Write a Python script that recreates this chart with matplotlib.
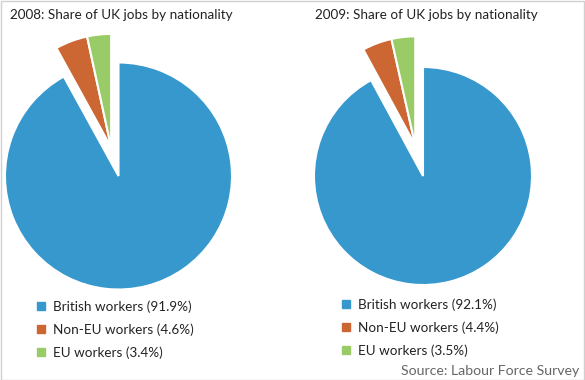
import numpy as np
import matplotlib.pyplot as plt
from matplotlib.lines import Line2D
from matplotlib.patches import Rectangle

plt.rcParams['font.family'] = ['Lato', 'DejaVu Sans']

categories = ['British workers', 'Non-EU workers', 'EU workers']
share_2008 = [91.9, 4.6, 3.4]
share_2009 = [92.1, 4.4, 3.5]
titles = ['2008: Share of UK jobs by nationality', '2009: Share of UK jobs by nationality']
colors = ['#3698CC', '#CC6633', '#99CC66']

W, H = 585, 380
fig = plt.figure(figsize=(W / 100, H / 100), dpi=100)
fig.add_artist(Rectangle((0.5 / W, 0.5 / H), 1 - 1.5 / W, 1 - 1.5 / H, transform=fig.transFigure,
                         fill=False, edgecolor='#D0D0D0', linewidth=1))


def draw_pie(values, title, cx, cy, r, explode, title_x, leg_x, leg_y):
    lim = 1.35
    size = 2 * lim * r
    ax = fig.add_axes([(cx - size / 2) / W, 1 - (cy + size / 2) / H, size / W, size / H])
    wedges, _ = ax.pie(values, colors=colors, startangle=90, counterclock=False,
                       wedgeprops=dict(edgecolor='white', linewidth=1.5))
    # the two small slices are pulled out together as one group
    small = sum(values[1:]) / sum(values) * 360
    ang = np.deg2rad(90 + small / 2)
    for w in wedges[1:]:
        w.set_center((explode * np.cos(ang), explode * np.sin(ang)))
    ax.set_xlim(-lim, lim)
    ax.set_ylim(-lim, lim)
    ax.set_aspect('equal')
    ax.axis('off')
    fig.text(title_x / W, 1 - 15 / H, title, fontsize=9.7, va='center', ha='left', color='#222222')
    handles = [Line2D([], [], marker='s', linestyle='', markersize=6, color=c) for c in colors]
    labels = [f'{c} ({v}%)' for c, v in zip(categories, values)]
    fig.legend(handles, labels, loc='upper left', bbox_to_anchor=(leg_x / W, 1 - leg_y / H),
               frameon=False, fontsize=9.7, handlelength=0.8, handletextpad=0.45,
               labelspacing=0.8, borderpad=0, borderaxespad=0, labelcolor='#222222')


draw_pie(share_2008, titles[0], 118.5, 176, 113.5, 0.26, 10, 36, 300)
draw_pie(share_2009, titles[1], 423, 176, 109, 0.29, 315, 341, 298)

fig.text(579 / W, 1 - 371 / H, 'Source: Labour Force Survey', fontsize=10.2,
         ha='right', va='center', color='#666666')

fig.savefig('out.png', dpi=100)
